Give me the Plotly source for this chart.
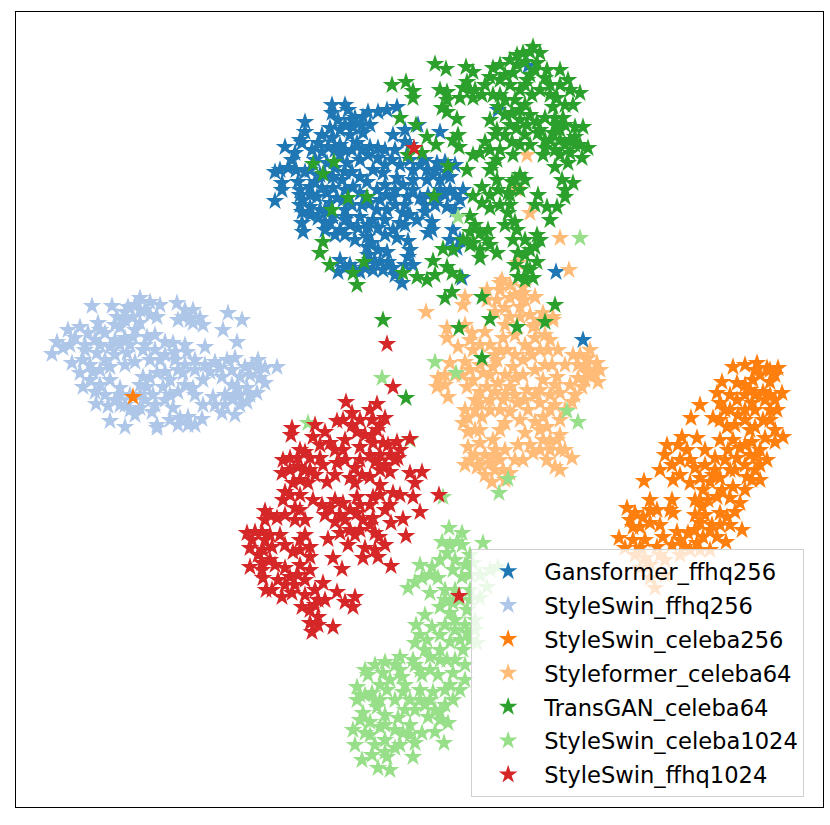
import plotly.graph_objects as go

series_names = ["Gansformer_ffhq256", "StyleSwin_ffhq256", "StyleSwin_celeba256", "Styleformer_celeba64",
                "TransGAN_celeba64", "StyleSwin_celeba1024", "StyleSwin_ffhq1024"]
series_colors = ["#1f77b4", "#aec7e8", "#ff7f0e", "#ffbb78", "#2ca02c", "#98df8a", "#d62728"]

gansformer_ffhq256 = [(332,105),(345,105),(332,113),(348,110),(305,122),(305,132),(302,143),(285,147),(295,153),(363,117),(378,112),(387,110),(397,107),(353,127),(340,130),(363,133),(318,143),(328,147),(340,145),(357,143),(370,147),(378,148),(393,135),(405,130),(418,125),(440,132),(405,142),(360,160),(392,160),(280,170),(288,168),(275,172),(282,183),(282,190),(275,201),(298,182),(310,187),(303,200),(317,197),(327,193),(342,180),(360,177),(373,170),(383,173),(397,178),(413,170),(427,170),(437,163),(445,162),(450,177),(463,190),(450,190),(460,200),(447,207),(427,180),(413,190),(393,197),(407,197),(420,198),(377,190),(360,193),(343,200),(302,212),(302,223),(303,232),(330,223),(340,230),(347,217),(360,217),(373,220),(377,210),(403,213),(417,220),(432,222),(428,233),(453,230),(460,240),(393,230),(397,238),(367,237),(367,247),(408,241),(378,250),(387,252),(408,257),(413,265),(340,260),(338,272),(350,265),(373,270),(383,270),(393,268),(402,283),(462,278),(320,210),(333,217),(310,207),(327,163),(347,163),(333,177),(353,187),(370,203),(387,210),(400,223),(315,160),(340,155),(370,125),(300,190),(320,175),(345,235),(355,240),(385,220),(425,205),(440,190),(435,205),(370,260),(355,270),(380,262),(395,190),(410,160),(528,66),(498,110),(556,272),(583,340),
    (338,120),(352,120),(330,128),(345,125),(355,118),(368,112),(362,125),(332,138),(322,135),(350,135),(335,150),(322,152),(312,150),(345,150),(352,150),(362,150),(368,155),(378,158),(385,150),(385,165),(352,172),(345,172),(335,168),(325,175),(315,182),(305,172),(296,170),(300,195),(310,195),(322,188),(333,188),(345,190),(337,198),(310,215),(318,218),(325,210),(330,203),(352,205),(362,205),(380,200),(386,195),(403,185),(413,180),(420,165),(433,175),(440,180),(446,172),(455,165),(455,195),(445,195),(455,210),(437,198),(428,195),(405,205),(395,205),(385,185),(367,182),(345,210),(335,235),(325,230),(350,225),(358,228),(368,225),(378,228),(385,235),(405,225),(410,215),(425,212),(432,230),(450,240),(457,248),(367,228),(368,255),(372,243),(345,268),(360,272),(365,268),(375,262),(388,262),(395,275),(405,265),(410,250),(325,222),(345,220),(410,145),(395,150),(400,165),(425,160),(435,170),(310,170),(300,205),(292,160),(300,140)]
styleswin_ffhq256 = [(92,306),(112,306),(128,307),(140,298),(150,302),(160,305),(177,303),(193,310),(228,313),(242,320),(223,330),(237,342),(157,317),(133,317),(117,317),(98,323),(80,327),(68,330),(57,342),(63,348),(52,354),(88,333),(105,333),(120,327),(140,323),(183,317),(203,325),(193,323),(165,342),(173,343),(147,337),(133,337),(205,347),(187,352),(72,363),(83,360),(97,353),(110,347),(127,353),(143,350),(195,360),(215,362),(227,360),(235,358),(258,360),(252,365),(265,368),(277,367),(265,383),(240,377),(222,377),(203,380),(193,388),(178,370),(170,380),(183,373),(143,377),(157,373),(80,373),(93,372),(110,367),(83,387),(95,392),(110,380),(120,388),(147,387),(153,395),(178,392),(163,387),(238,388),(247,388),(257,393),(247,402),(233,398),(213,397),(203,405),(222,413),(235,415),(173,408),(152,412),(188,417),(202,419),(178,425),(188,425),(157,425),(125,427),(110,421),(108,406),(96,404),(120,405),(130,410),(140,408),(157,428),
    (100,330),(115,325),(125,320),(140,310),(150,315),(135,330),(125,338),(145,345),(155,335),(95,340),(85,345),(75,338),(70,345),(100,345),(115,340),(120,345),(130,345),(155,350),(165,355),(175,352),(185,345),(115,355),(105,360),(90,365),(100,370),(125,365),(135,362),(150,360),(160,360),(175,360),(185,365),(195,370),(205,365),(210,372),(220,368),(232,370),(245,367),(258,370),(250,375),(260,378),(240,395),(225,395),(232,385),(250,395),(240,405),(215,405),(225,405),(90,380),(100,385),(105,395),(120,395),(130,395),(140,395),(145,400),(125,405),(115,400),(135,415),(155,405),(165,400),(170,395),(185,385),(195,395),(180,418),(170,420),(195,425),(140,385),(150,378),(165,372),(85,350),(185,310),(190,320),(200,318),(178,320),(125,312),(135,305),(145,310)]
styleswin_celeba256 = [(133,397),(619,538),(627,508),(635,513),(633,527),(633,540),(644,481),(650,500),(643,517),(657,510),(650,523),(663,537),(657,547),(677,532),(673,513),(672,500),(660,470),(672,465),(673,480),(667,445),(682,437),(697,438),(687,450),(705,450),(715,458),(700,405),(691,418),(695,468),(690,483),(713,475),(703,490),(702,507),(717,497),(720,513),(700,523),(688,533),(703,537),(717,537),(726,542),(742,530),(735,512),(727,517),(740,503),(733,487),(737,458),(747,477),(760,480),(755,457),(767,460),(752,442),(733,440),(720,440),(727,427),(713,418),(722,382),(733,367),(720,403),(737,400),(737,383),(752,403),(757,363),(767,368),(778,368),(753,380),(770,382),(782,393),(763,392),(777,410),(763,420),(755,427),(775,430),(783,437),(775,442),(738,415),(717,393),(680,540),(697,543),(635,555),(650,565),(650,578),(665,560),(680,555),(710,550),(640,548),(625,548),
    (745,365),(755,370),(760,375),(770,370),(775,375),(745,385),(750,390),(745,395),(755,395),(765,400),(775,400),(770,395),(730,395),(725,410),(730,410),(720,420),(735,425),(745,420),(745,410),(750,430),(728,450),(740,448),(725,460),(730,470),(715,470),(705,465),(710,482),(720,478),(700,500),(708,500),(705,515),(712,525),(695,515),(730,498),(722,490),(745,490),(752,480),(745,465),(755,470),(760,465),(765,438),(770,420),(678,445),(690,460),(665,455),(680,460),(670,510),(650,510),(640,527),(645,540),(630,520),(660,525),(672,545),(685,547),(695,530),(710,530),(720,525),(730,525),(695,500),(680,475),(700,478),(750,455),(760,450),(745,445),(735,470),(770,410),(755,410),(690,550),(700,550),(660,555),(645,558),(665,575),(640,568),(655,588)]
styleformer_celeba64 = [(426,312),(465,297),(463,305),(502,280),(487,290),(523,287),(535,297),(497,300),(510,298),(520,307),(510,317),(533,327),(535,338),(553,320),(543,313),(447,328),(447,338),(458,347),(465,325),(472,333),(485,332),(473,350),(503,338),(507,350),(465,362),(450,363),(438,378),(437,387),(448,397),(532,355),(548,350),(558,350),(573,355),(588,358),(597,363),(587,373),(598,382),(582,387),(560,393),(572,402),(543,380),(557,377),(513,367),(493,367),(473,380),(467,387),(487,387),(510,387),(527,390),(490,400),(503,400),(517,403),(540,403),(468,418),(463,423),(482,417),(480,430),(505,423),(493,440),(525,433),(547,427),(560,420),(557,440),(560,450),(468,447),(480,443),(518,445),(543,440),(533,453),(547,460),(555,467),(572,458),(523,460),(465,465),(477,467),(490,463),(500,460),(503,470),(492,482),(510,473),(543,417),(528,410),(480,403),(498,383),(523,360),(497,360),(483,373),(527,155),(516,189),(530,213),(560,238),(569,270),(518,263),(500,283),(523,293),(535,297),(553,317),
    (510,285),(500,290),(515,295),(525,300),(505,308),(520,317),(495,312),(487,300),(530,315),(540,320),(535,325),(505,325),(515,335),(490,345),(480,345),(500,350),(495,355),(470,340),(470,370),(480,365),(455,375),(462,375),(490,375),(505,375),(515,378),(523,375),(535,370),(545,365),(552,365),(565,365),(578,365),(585,365),(590,372),(578,378),(570,385),(555,385),(550,395),(535,395),(525,400),(515,395),(505,395),(495,392),(480,392),(475,410),(490,410),(500,410),(510,412),(520,420),(535,422),(550,410),(565,410),(555,405),(540,430),(550,450),(540,450),(530,445),(515,460),(505,450),(495,450),(485,455),(475,455),(470,460),(485,475),(495,470),(480,465),(495,455),(505,480),(550,440),(565,450),(475,430),(500,430),(468,432),(560,435),(560,470),(445,385),(445,375),(530,350),(540,350),(550,340),(545,335),(525,345),(515,355),(540,390),(575,395),(585,380),(595,375),(590,350),(600,370),(580,355),(475,400),(465,410)]
transgan_celeba64 = [(435,64),(446,69),(466,67),(473,72),(392,85),(406,82),(413,91),(413,98),(447,92),(442,108),(447,112),(457,119),(467,82),(463,88),(460,98),(473,98),(482,95),(493,95),(493,68),(500,65),(490,77),(500,80),(513,73),(517,55),(523,53),(533,47),(540,53),(517,65),(537,63),(547,70),(560,70),(568,80),(580,93),(573,105),(553,107),(557,98),(540,90),(532,95),(525,105),(515,100),(512,113),(498,107),(490,120),(497,130),(517,128),(537,122),(545,118),(563,118),(575,127),(583,127),(538,133),(553,133),(560,140),(575,137),(588,148),(582,158),(570,153),(568,163),(555,167),(543,155),(513,155),(512,142),(485,142),(480,153),(473,155),(493,165),(490,170),(497,180),(467,170),(448,166),(400,118),(416,125),(427,137),(436,145),(458,135),(453,140),(459,147),(408,155),(422,153),(313,164),(334,162),(323,174),(348,198),(367,197),(332,210),(434,196),(520,175),(512,182),(562,180),(573,183),(565,197),(538,195),(508,193),(498,190),(482,187),(473,196),(482,203),(490,208),(508,213),(470,216),(547,207),(557,207),(550,220),(517,230),(513,240),(537,235),(535,247),(537,262),(518,253),(527,268),(518,277),(533,278),(470,232),(480,233),(488,230),(487,240),(473,243),(480,258),(497,253),(443,249),(453,250),(433,261),(447,267),(452,273),(460,277),(435,275),(427,280),(417,277),(403,273),(323,242),(320,253),(330,265),(353,273),(357,285),(364,262),(445,298),(452,292),(482,297),(555,305),(383,320),(490,319),(459,328),(517,327),(545,322),(482,358),(406,398),(525,85),(530,75),(550,85),(555,125),(565,145),(575,145),(545,140),(525,135),(520,145),
    (505,75),(510,85),(520,90),(527,80),(535,70),(545,78),(525,62),(510,60),(530,52),(550,95),(560,85),(570,90),(565,105),(555,118),(530,115),(540,130),(527,125),(520,120),(510,125),(530,145),(545,148),(555,150),(560,155),(570,140),(580,145),(565,125),(560,130),(550,140),(500,150),(495,135),(490,150),(497,160),(505,135),(505,100),(520,110),(505,115),(510,195),(520,190),(525,180),(510,205),(490,195),(515,180),(500,205),(505,225),(515,222),(525,240),(525,255),(530,250),(540,240),(530,270),(525,280),(515,265),(470,245),(475,225),(490,245),(480,250),(463,240),(440,90),(447,100),(485,85),(475,90),(500,95),(470,90),(565,190),(535,205)]
styleswin_celeba1024 = [(458,217),(580,238),(435,362),(456,373),(567,411),(578,422),(508,479),(499,493),(382,378),(308,423),(410,440),(443,497),(449,528),(462,533),(442,542),(483,543),(457,542),(447,553),(420,565),(432,567),(415,582),(408,588),(430,593),(438,578),(453,570),(462,577),(473,563),(498,567),(487,587),(480,598),(475,620),(477,643),(440,607),(453,603),(450,613),(467,610),(416,625),(432,627),(467,633),(415,643),(427,640),(450,642),(463,650),(385,662),(400,657),(413,660),(430,657),(447,660),(368,675),(383,673),(402,677),(422,675),(438,675),(453,673),(460,690),(453,700),(440,712),(357,687),(357,700),(372,693),(387,690),(403,692),(420,690),(433,692),(363,713),(377,707),(398,718),(415,710),(428,717),(448,723),(353,730),(365,733),(380,727),(403,733),(422,733),(435,732),(444,743),(385,740),(413,757),(362,760),(372,755),(378,768),(390,770),(387,757),(395,748),(415,743),
    (450,545),(462,545),(470,555),(440,560),(455,560),(465,565),(430,575),(422,578),(445,590),(455,590),(470,590),(445,625),(455,620),(465,625),(445,600),(460,600),(470,600),(400,670),(390,680),(380,685),(375,700),(365,695),(395,700),(410,700),(420,700),(430,700),(445,690),(450,685),(440,660),(455,660),(465,665),(465,680),(460,640),(425,650),(440,650),(415,665),(405,685),(395,665),(375,665),(410,725),(385,715),(370,722),(385,725),(395,730),(440,720),(445,705),(425,705),(435,710),(360,720),(375,745),(385,752),(400,745),(370,735),(355,745),(410,735),(365,670),(360,695),(405,710),(380,700),(420,670),(430,670),(470,640),(475,630),(470,575),(480,575),(490,570),(455,630),(440,635),(425,615),(420,635)]
styleswin_ffhq1024 = [(414,148),(387,344),(393,387),(459,596),(439,495),(346,402),(352,413),(337,421),(343,420),(357,432),(370,410),(377,404),(385,418),(377,430),(373,443),(383,443),(397,442),(410,439),(398,458),(292,428),(291,435),(315,425),(313,437),(325,432),(330,443),(343,450),(360,447),(283,460),(290,458),(282,473),(298,467),(310,458),(323,465),(337,463),(355,468),(370,477),(380,470),(390,472),(355,483),(327,482),(308,483),(293,483),(285,492),(283,500),(295,508),(265,511),(277,518),(295,520),(313,500),(330,508),(343,503),(357,497),(373,497),(393,493),(410,473),(422,472),(415,483),(413,497),(420,512),(403,519),(391,523),(373,518),(357,513),(340,533),(328,539),(348,545),(406,536),(379,537),(378,557),(363,558),(391,566),(333,558),(342,569),(247,533),(255,532),(262,532),(280,535),(250,548),(263,550),(272,547),(250,567),(262,563),(300,540),(310,547),(293,552),(310,557),(300,565),(263,578),(278,580),(266,590),(290,577),(305,580),(323,583),(337,592),(282,597),(292,593),(302,607),(318,600),(310,623),(318,617),(333,627),(345,602),(355,597),(353,607),(363,520),(375,533),
    (352,425),(360,420),(372,420),(380,425),(365,435),(372,435),(380,455),(370,455),(360,460),(345,460),(345,440),(335,450),(320,445),(305,452),(300,450),(298,458),(290,470),(300,480),(315,475),(320,458),(310,470),(305,470),(335,475),(350,478),(362,475),(380,485),(395,460),(385,465),(375,462),(390,455),(388,445),(400,450),(380,495),(370,505),(360,505),(350,510),(335,500),(322,505),(325,515),(340,515),(335,522),(345,520),(350,530),(360,530),(370,525),(290,495),(300,495),(300,510),(305,520),(285,515),(265,520),(270,515),(385,510),(390,505),(400,495),(375,550),(385,545),(365,548),(355,535),(252,540),(265,540),(270,535),(258,555),(270,560),(262,570),(275,565),(285,568),(285,545),(300,550),(305,535),(298,575),(310,570),(315,590),(305,595),(295,585),(285,585),(272,590),(310,610),(325,600),(315,605),(312,632),(318,625)]

all_points = [gansformer_ffhq256, styleswin_ffhq256, styleswin_celeba256, styleformer_celeba64,
              transgan_celeba64, styleswin_celeba1024, styleswin_ffhq1024]

fig = go.Figure()
for name, color, pts in zip(series_names, series_colors, all_points):
    fig.add_trace(go.Scatter(x=[p[0] for p in pts], y=[p[1] for p in pts], mode="markers", name=name,
                             legendgroup=name,
                             marker=dict(symbol="star", size=14, color=color, line=dict(width=0))))

axis_style = dict(showgrid=False, zeroline=False, showticklabels=False, ticks="",
                  showline=True, linecolor="black", linewidth=1, mirror=True)
fig.update_xaxes(range=[16, 823], **axis_style)
fig.update_yaxes(range=[807, 12], **axis_style)
fig.update_layout(
    width=830, height=825, margin=dict(l=16, r=7, t=12, b=18, autoexpand=False),
    paper_bgcolor="white", plot_bgcolor="white", hovermode=False,
    font=dict(family="DejaVu Sans", color="black"),
    legend=dict(x=0.564, y=0.3245, xanchor="left", yanchor="top", bgcolor="rgba(255,255,255,0.8)",
                bordercolor="#d0d0d0", borderwidth=1, font=dict(size=22.6), tracegroupgap=1.5, itemwidth=62,
                itemsizing="trace", traceorder="grouped", itemclick=False, itemdoubleclick=False),
)
fig.write_html("out.html", config={"displayModeBar": False},
               post_script="document.documentElement.style.overflow='hidden';document.body.style.margin='0';")
